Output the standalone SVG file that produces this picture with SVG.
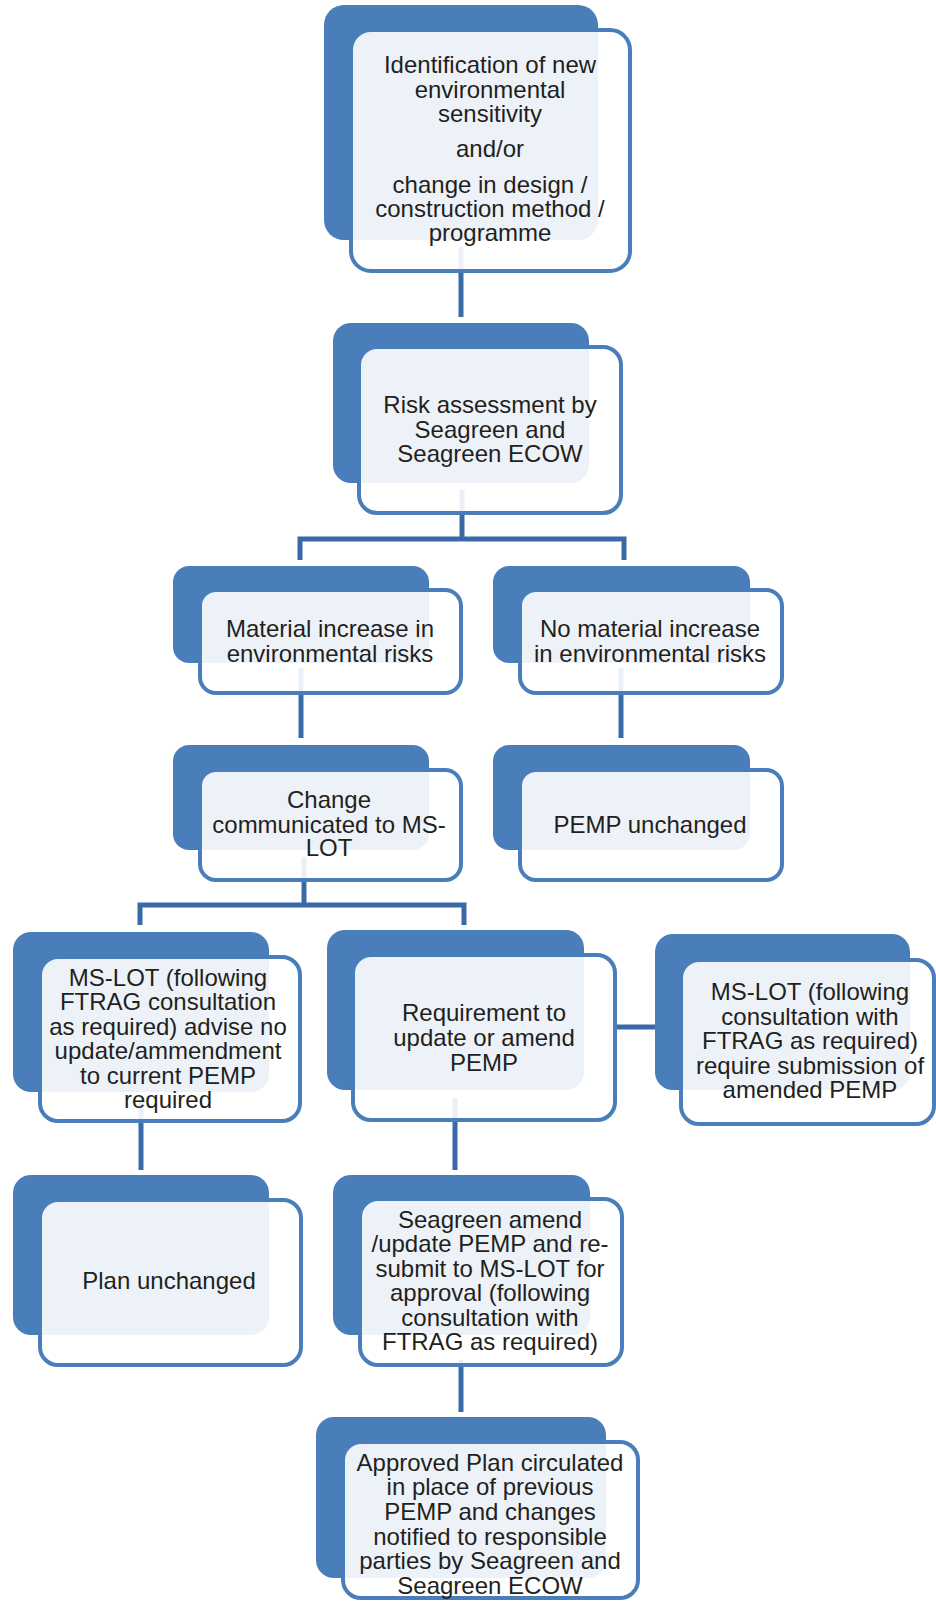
<svg xmlns="http://www.w3.org/2000/svg" width="936" height="1602" viewBox="0 0 936 1602">
<style>
.bk{fill:#4A7EBB;}
.fr{fill:#FFFFFF;fill-opacity:0.9;stroke:#4A7EBB;stroke-width:4;}
.t{font-family:"Liberation Sans",Arial,sans-serif;font-size:24px;fill:#231F20;text-anchor:middle;}
.c{stroke:#3A6AA6;stroke-width:5;fill:none;}
</style>
<rect width="936" height="1602" fill="#FFFFFF"/>
<g id="connectors">
<line class="c" x1="461" y1="247" x2="461" y2="317"/>
<polyline class="c" points="462,490 462,539"/>
<polyline class="c" points="300,560 300,539 624,539 624,560"/>
<line class="c" x1="301" y1="668" x2="301" y2="738"/>
<line class="c" x1="621" y1="668" x2="621" y2="738"/>
<line class="c" x1="304" y1="857" x2="304" y2="905"/>
<polyline class="c" points="140,925 140,905 464,905 464,925"/>
<line class="c" x1="615" y1="1027" x2="658" y2="1027"/>
<line class="c" x1="141" y1="1100" x2="141" y2="1170"/>
<line class="c" x1="455" y1="1098" x2="455" y2="1170"/>
<line class="c" x1="461" y1="1360" x2="461" y2="1412"/>
</g>
<g id="n1">
<rect class="bk" x="324" y="5" width="274" height="235" rx="20"/>
<rect class="fr" x="351" y="30" width="279" height="241" rx="20"/>
<text class="t" x="490" y="73">Identification of new</text>
<text class="t" x="490" y="97.5">environmental</text>
<text class="t" x="490" y="122">sensitivity</text>
<text class="t" x="490" y="157">and/or</text>
<text class="t" x="490" y="193">change in design /</text>
<text class="t" x="490" y="217">construction method /</text>
<text class="t" x="490" y="241">programme</text>
</g>
<g id="n2">
<rect class="bk" x="333" y="323" width="256" height="160" rx="18"/>
<rect class="fr" x="359" y="347" width="262" height="166" rx="18"/>
<text class="t" x="490" y="413">Risk assessment by</text>
<text class="t" x="490" y="437.5">Seagreen and</text>
<text class="t" x="490" y="462">Seagreen ECOW</text>
</g>
<g id="n3">
<rect class="bk" x="173" y="566" width="256" height="97" rx="16"/>
<rect class="fr" x="200" y="590" width="261" height="103" rx="16"/>
<text class="t" x="330" y="637">Material increase in</text>
<text class="t" x="330" y="661.5">environmental risks</text>
</g>
<g id="n4">
<rect class="bk" x="493" y="566" width="257" height="97" rx="16"/>
<rect class="fr" x="520" y="590" width="262" height="103" rx="16"/>
<text class="t" x="650" y="637">No material increase</text>
<text class="t" x="650" y="661.5">in environmental risks</text>
</g>
<g id="n5">
<rect class="bk" x="173" y="745" width="256" height="105" rx="16"/>
<rect class="fr" x="200" y="770" width="261" height="110" rx="16"/>
<text class="t" x="329" y="808">Change</text>
<text class="t" x="329" y="832.5">communicated to MS-</text>
<text class="t" x="329" y="856">LOT</text>
</g>
<g id="n6">
<rect class="bk" x="493" y="745" width="257" height="105" rx="16"/>
<rect class="fr" x="520" y="770" width="262" height="110" rx="16"/>
<text class="t" x="650" y="833">PEMP unchanged</text>
</g>
<g id="n7">
<rect class="bk" x="13" y="932" width="256" height="160" rx="18"/>
<rect class="fr" x="40" y="957" width="260" height="164" rx="18"/>
<text class="t" x="168" y="986">MS-LOT (following</text>
<text class="t" x="168" y="1010">FTRAG consultation</text>
<text class="t" x="168" y="1034.5">as required) advise no</text>
<text class="t" x="168" y="1059">update/ammendment</text>
<text class="t" x="168" y="1083.5">to current PEMP</text>
<text class="t" x="168" y="1108">required</text>
</g>
<g id="n8">
<rect class="bk" x="327" y="930" width="257" height="160" rx="18"/>
<rect class="fr" x="353" y="955" width="262" height="165" rx="18"/>
<text class="t" x="484" y="1021">Requirement to</text>
<text class="t" x="484" y="1046">update or amend</text>
<text class="t" x="484" y="1070.5">PEMP</text>
</g>
<g id="n9">
<rect class="bk" x="655" y="934" width="255" height="156" rx="18"/>
<rect class="fr" x="681" y="960" width="253" height="164" rx="18"/>
<text class="t" x="810" y="1000">MS-LOT (following</text>
<text class="t" x="810" y="1024.5">consultation with</text>
<text class="t" x="810" y="1049">FTRAG as required)</text>
<text class="t" x="810" y="1073.5">require submission of</text>
<text class="t" x="810" y="1098">amended PEMP</text>
</g>
<g id="n10">
<rect class="bk" x="13" y="1175" width="256" height="160" rx="18"/>
<rect class="fr" x="40" y="1200" width="261" height="165" rx="18"/>
<text class="t" x="169" y="1289">Plan unchanged</text>
</g>
<g id="n11">
<rect class="bk" x="333" y="1175" width="257" height="160" rx="18"/>
<rect class="fr" x="360" y="1199" width="262" height="166" rx="18"/>
<text class="t" x="490" y="1227.5">Seagreen amend</text>
<text class="t" x="490" y="1252">/update PEMP and re-</text>
<text class="t" x="490" y="1276.5">submit to MS-LOT for</text>
<text class="t" x="490" y="1301">approval (following</text>
<text class="t" x="490" y="1325.5">consultation with</text>
<text class="t" x="490" y="1350">FTRAG as required)</text>
</g>
<g id="n12">
<rect class="bk" x="316" y="1417" width="290" height="161" rx="18"/>
<rect class="fr" x="343" y="1442" width="295" height="156" rx="18"/>
<text class="t" x="490" y="1470.5">Approved Plan circulated</text>
<text class="t" x="490" y="1495">in place of previous</text>
<text class="t" x="490" y="1520">PEMP and changes</text>
<text class="t" x="490" y="1544.5">notified to responsible</text>
<text class="t" x="490" y="1569">parties by Seagreen and</text>
<text class="t" x="490" y="1593.5">Seagreen ECOW</text>
</g>
</svg>
